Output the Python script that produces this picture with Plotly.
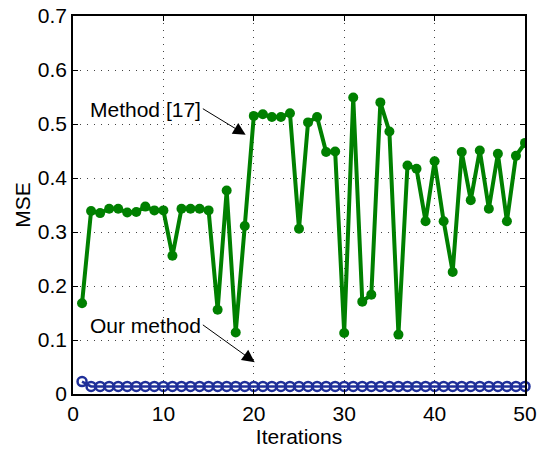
import plotly.graph_objects as go

iterations = list(range(1, 51))
method17 = [0.168, 0.339, 0.335, 0.343, 0.343, 0.336, 0.337, 0.347, 0.340, 0.340,
            0.256, 0.343, 0.343, 0.343, 0.340, 0.156, 0.377, 0.114, 0.311, 0.515,
            0.518, 0.513, 0.513, 0.520, 0.306, 0.503, 0.513, 0.448, 0.449, 0.113,
            0.549, 0.171, 0.184, 0.540, 0.486, 0.110, 0.423, 0.417, 0.320, 0.431,
            0.320, 0.226, 0.448, 0.359, 0.451, 0.343, 0.445, 0.320, 0.441, 0.465]
our_method = [0.023] + [0.014] * 49

x_ticks = [0, 10, 20, 30, 40, 50]
y_ticks = [0, 0.1, 0.2, 0.3, 0.4, 0.5, 0.6, 0.7]
y_tick_labels = ["0", "0.1", "0.2", "0.3", "0.4", "0.5", "0.6", "0.7"]

FONT = "Liberation Sans, Arial, sans-serif"
FS = 21

fig = go.Figure()
fig.add_trace(go.Scatter(
    x=iterations, y=method17, mode="lines+markers",
    line=dict(color="#008000", width=4),
    marker=dict(color="#008000", size=10, symbol="circle"),
    showlegend=False))
fig.add_trace(go.Scatter(
    x=iterations, y=our_method, mode="lines+markers",
    line=dict(color="#1f2f99", width=2.5),
    marker=dict(color="#1f2f99", size=9, symbol="circle-open", line=dict(width=2.5)),
    showlegend=False, cliponaxis=False))

# text labels
fig.add_annotation(x=14.35, y=0.527, text="Method [17]", showarrow=False,
                   xanchor="right", yanchor="middle",
                   font=dict(family=FONT, size=FS, color="black"))
fig.add_annotation(x=14.35, y=0.127, text="Our method", showarrow=False,
                   xanchor="right", yanchor="middle",
                   font=dict(family=FONT, size=FS, color="black"))
# arrows
fig.add_annotation(x=19.1, y=0.48, axref="x", ayref="y", ax=14.2, ay=0.53, text="",
                   showarrow=True, arrowhead=2, arrowsize=2.5, arrowwidth=1,
                   arrowcolor="black")
fig.add_annotation(x=20.1, y=0.059, axref="x", ayref="y", ax=14.2, ay=0.13, text="",
                   showarrow=True, arrowhead=2, arrowsize=2.5, arrowwidth=1,
                   arrowcolor="black")

axis_common = dict(
    showline=True, linecolor="black", linewidth=1.5, mirror="ticks",
    ticks="inside", ticklen=5, tickcolor="black", tickwidth=1,
    showgrid=True, gridcolor="#444444", griddash="1px,6px", gridwidth=1.2,
    zeroline=False, tickfont=dict(family=FONT, size=FS, color="black"),
    automargin=False,
)

fig.update_xaxes(range=[0, 50], tickvals=x_ticks, ticktext=[str(v) for v in x_ticks],
                 title=dict(text="Iterations", font=dict(family=FONT, size=FS, color="black"),
                            standoff=0), **axis_common)
fig.update_yaxes(range=[0, 0.7], tickvals=y_ticks, ticktext=y_tick_labels,
                 title=dict(text="MSE", font=dict(family=FONT, size=FS, color="black"),
                            standoff=1), **axis_common)

fig.update_layout(width=541, height=455, margin=dict(l=73, r=16, t=16, b=61),
                  plot_bgcolor="white", paper_bgcolor="white",
                  font=dict(family=FONT, size=FS, color="black"))

fig.write_html("out.html")
